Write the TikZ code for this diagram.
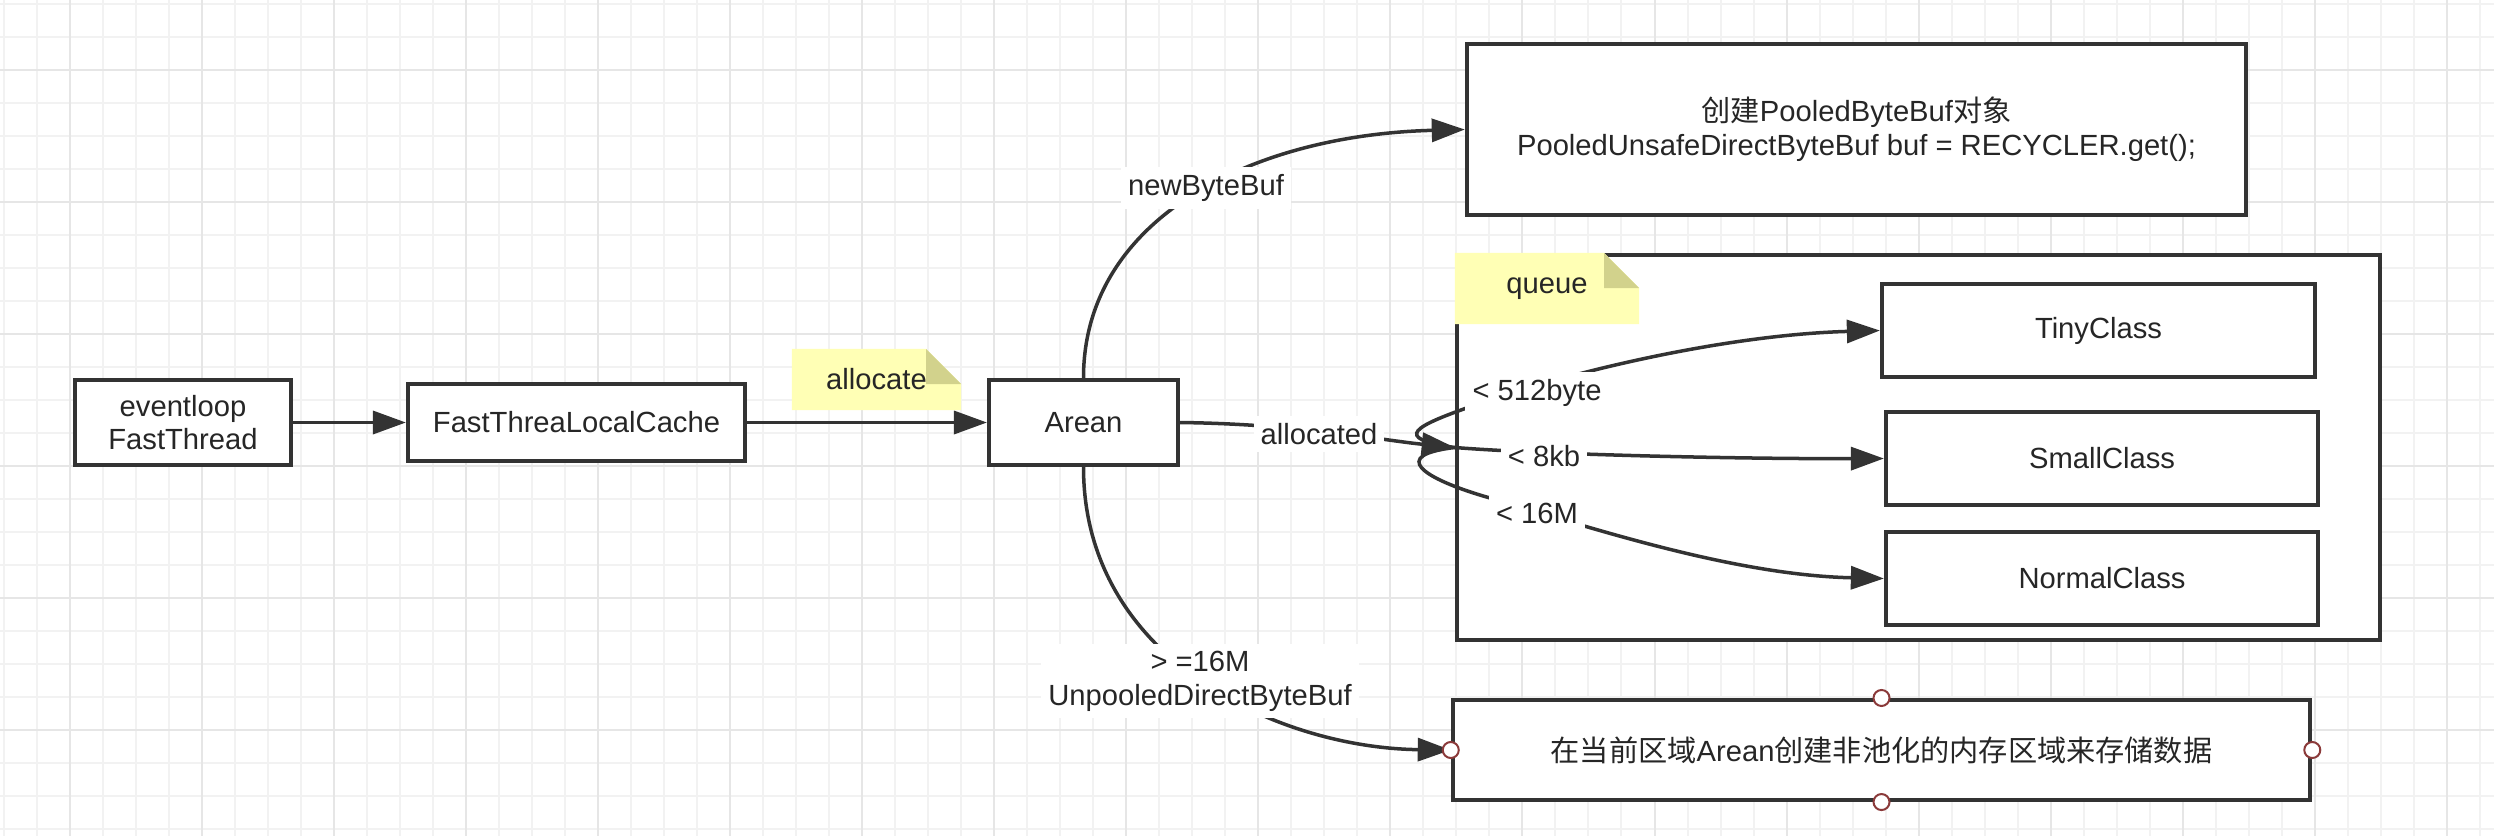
\documentclass[tikz,border=0pt]{standalone}
\usepackage{fontspec}
\setmainfont{Liberation Sans}
\newfontfamily\cjk{Noto Sans CJK SC}
\usetikzlibrary{arrows.meta,positioning}
\definecolor{linegray}{HTML}{333333}
\definecolor{notebg}{HTML}{FFFFB5}
\definecolor{notefold}{HTML}{D2D28C}
\definecolor{gridlo}{HTML}{F2F2F2}
\definecolor{gridhi}{HTML}{E6E6E6}
\definecolor{portred}{HTML}{8B3A3A}

\begin{document}
\begin{tikzpicture}[x=0.01cm,y=-0.01cm]

\tikzset{txt/.style={font=\fontsize{8.3}{9.6}\selectfont, text=black!85, align=center},
  box/.style={txt, draw=linegray, line width=0.04cm, fill=white, inner sep=0pt,
    minimum width=#1},
  conn/.style={draw=linegray, line width=0.035cm,
    -{Triangle[length=0.33cm,width=0.23cm]}},
  lbl/.style={txt, fill=white, inner sep=2pt},
  note/.style={txt, inner sep=0pt, path picture={
    \fill[notebg] (path picture bounding box.south west)
      |- ([xshift=-0.35cm]path picture bounding box.north east)
      -- ([yshift=-0.35cm]path picture bounding box.north east)
      -- (path picture bounding box.south east) -- cycle;
    \fill[notefold] ([xshift=-0.35cm]path picture bounding box.north east)
      -- ([xshift=-0.35cm,yshift=-0.35cm]path picture bounding box.north east)
      -- ([yshift=-0.35cm]path picture bounding box.north east) -- cycle;}},
  port/.style={circle, draw=portred, fill=white, line width=0.02cm,
    minimum size=0.16cm, inner sep=0pt},
  thingrid/.style={draw=gridlo, line width=0.02cm},
  thickgrid/.style={draw=gridhi, line width=0.02cm}
}

\fill[white] (0,0) rectangle (2494,836);
\useasboundingbox (0,0) rectangle (2494,836);
\foreach \k in {0,...,75} \draw[thingrid] ({3.98+33.01*\k},0) -- ({3.98+33.01*\k},836);
\foreach \k in {0,...,25} \draw[thingrid] (0,{4+33*\k}) -- (2494,{4+33*\k});
\foreach \k in {0,...,18} \draw[thickgrid] ({70+132.04*\k},0) -- ({70+132.04*\k},836);
\foreach \k in {0,...,5} \draw[thickgrid] (0,{70+132*\k}) -- (2494,{70+132*\k});

\node[box=2.16cm, minimum height=0.85cm] (evloop) at (183,422.5) {eventloop\\FastThread};
\node[box=3.37cm, minimum height=0.76cm] (cache) at (576.5,422.5) {FastThreaLocalCache};
\node[box=1.89cm, minimum height=0.84cm] (arean) at (1083.5,422.5) {Arean};
\node[box=7.79cm, minimum height=1.71cm] (newbuf) at (1856.5,129.5)
  {{\cjk 创建}PooledByteBuf{\cjk 对象}\\PooledUnsafeDirectByteBuf buf = RECYCLER.get();};
\node[box=9.23cm, minimum height=3.85cm] (pool) at (1918.5,447.5) {};
\node[box=4.33cm, minimum height=0.93cm] (tiny) at (2098.5,330.5) {TinyClass};
\node[box=4.32cm, minimum height=0.93cm] (small) at (2102,458.5) {SmallClass};
\node[box=4.32cm, minimum height=0.93cm] (normal) at (2102,578.5) {NormalClass};
\node[box=8.57cm, minimum height=1.00cm] (unpooled) at (1881.5,750)
  {{\cjk 在当前区域}Arean{\cjk 创建非池化的内存区域来存储数据}};

\draw[conn] (evloop) -- (cache);
\draw[conn] (cache) -- (arean);
\draw[conn] (arean.north) .. controls (1083,220) and (1250,135) .. (newbuf.west);
\draw[conn] (arean.east) .. controls (1300,424) and (1380,440) .. (pool.west);
\draw[conn] (pool.west) .. controls (1390,438) and (1415,426) .. (1475,405)
  .. controls (1560,375) and (1720,335) .. (tiny.west);
\draw[conn] (pool.west) .. controls (1550,455) and (1750,459) .. (small.west);
\draw[conn] (pool.west) .. controls (1390,455) and (1420,478) .. (1490,498)
  .. controls (1580,524) and (1730,575) .. (normal.west);
\draw[conn] (arean.south) .. controls (1083,660) and (1280,748) .. (unpooled.west);

\node[lbl] (lnew) at (1206,188) {newByteBuf};
\node[lbl] (lalloc) at (1319,434) {allocated};
\node[lbl] (ltiny) at (1537,393) {< 512byte};
\node[lbl] (lsmall) at (1544,456) {< 8kb};
\node[lbl] (lnormal) at (1537,513) {< 16M};
\node[lbl] (lunp) at (1200,681) {> =16M\\UnpooledDirectByteBuf};

\node[note, minimum width=1.69cm, minimum height=0.61cm] (allocnote) at (876.5,379.5) {allocate};
\node[note, minimum width=1.84cm, minimum height=0.71cm] (queuenote) at (1547,288.5) {queue};

\foreach \a in {north,south,east,west} \node[port] (unp-\a) at (unpooled.\a) {};
\end{tikzpicture}
\end{document}
